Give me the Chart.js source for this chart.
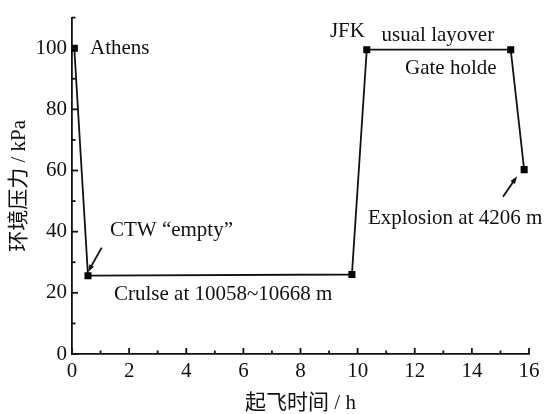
<!DOCTYPE html>
<html>
<head>
<meta charset="utf-8">
<script src="https://cdn.jsdelivr.net/npm/chart.js@4"></script>
<style>
  html, body { margin: 0; padding: 0; background: #fff; }
  #wrap { width: 548px; height: 414px; }
</style>
</head>
<body>
<div id="wrap"><canvas id="chart" width="548" height="414"></canvas></div>
<script>
// flight profile: time (h) vs ambient pressure (kPa)
const timeHours = [0.08, 0.56, 9.8, 10.32, 15.36, 15.83];
const pressureKPa = [100, 25.6, 26, 99.5, 99.5, 60.3];
const yTickValues = [0, 20, 40, 60, 80, 100];
const xTickValues = [0, 2, 4, 6, 8, 10, 12, 14, 16];

// text notes, placed in data units (x = left edge, y = middle)
const noteTexts = ['Athens', 'CTW \u201cempty\u201d', 'Crulse at 10058~10668 m', 'JFK', 'usual layover', 'Gate holde', 'Explosion at 4206 m'];
const noteX = [0.63, 1.33, 1.47, 9.03, 10.84, 11.66, 10.36];
const noteY = [100, 40.3, 19.5, 105.4, 104.2, 93.3, 44.4];

// arrows: from (x0,y0) to (x1,y1), data units
const arrowFromX = [1.04, 15.09];
const arrowFromY = [34.8, 51.4];
const arrowToX = [0.56, 15.58];
const arrowToY = [26.8, 58.1];

const ink = '#111';
const serif = "'Liberation Serif', 'Times New Roman', 'Noto Sans CJK SC', serif";

const points = timeHours.map((t, i) => ({ x: t, y: pressureKPa[i] }));

const decorations = {
    id: 'decorations',
    afterDraw(chart) {
        const ctx = chart.ctx;
        const xs = chart.scales.x, ys = chart.scales.y;
        const area = chart.chartArea;
        ctx.save();
        ctx.strokeStyle = ink;
        ctx.lineWidth = 1.8;

        // inward ticks, major and minor
        for (let v = 0; v <= 16; v++) {
            const px = xs.getPixelForValue(v);
            const len = v % 2 === 0 ? 6 : 3.5;
            ctx.beginPath();
            ctx.moveTo(px, area.bottom);
            ctx.lineTo(px, area.bottom - len);
            ctx.stroke();
        }
        for (let v = 0; v <= 110; v += 10) {
            const py = ys.getPixelForValue(v);
            const len = v % 20 === 0 ? 6 : 3.5;
            ctx.beginPath();
            ctx.moveTo(area.left, py);
            ctx.lineTo(area.left + len, py);
            ctx.stroke();
        }

        // notes
        ctx.fillStyle = ink;
        ctx.font = '21px ' + serif;
        ctx.textBaseline = 'middle';
        ctx.textAlign = 'left';
        noteTexts.forEach((t, i) => {
            ctx.fillText(t, xs.getPixelForValue(noteX[i]), ys.getPixelForValue(noteY[i]));
        });

        // arrows
        ctx.lineWidth = 1.8;
        arrowFromX.forEach((x0, i) => {
            const ax = xs.getPixelForValue(x0), ay = ys.getPixelForValue(arrowFromY[i]);
            const bx = xs.getPixelForValue(arrowToX[i]), by = ys.getPixelForValue(arrowToY[i]);
            const ang = Math.atan2(by - ay, bx - ax);
            const head = 8;
            ctx.beginPath();
            ctx.moveTo(ax, ay);
            ctx.lineTo(bx - Math.cos(ang) * 4, by - Math.sin(ang) * 4);
            ctx.stroke();
            ctx.beginPath();
            ctx.moveTo(bx, by);
            ctx.lineTo(bx - head * Math.cos(ang - 0.35), by - head * Math.sin(ang - 0.35));
            ctx.lineTo(bx - head * Math.cos(ang + 0.35), by - head * Math.sin(ang + 0.35));
            ctx.closePath();
            ctx.fill();
        });
        ctx.restore();
    }
};

new Chart(document.getElementById('chart'), {
    type: 'scatter',
    data: {
        datasets: [{
            data: points,
            showLine: true,
            borderColor: ink,
            borderWidth: 1.8,
            backgroundColor: '#000',
            pointStyle: 'rect',
            pointRadius: 5,
            pointBorderWidth: 0,
            tension: 0
        }]
    },
    options: {
        responsive: false,
        animation: false,
        events: [],
        layout: { padding: { top: 10, right: 19, left: 0, bottom: 0 } },
        plugins: { legend: { display: false }, tooltip: { enabled: false } },
        scales: {
            x: {
                type: 'linear',
                min: 0,
                max: 16,
                afterFit(scale) { scale.height = 60; },
                afterBuildTicks(scale) { scale.ticks = xTickValues.map(v => ({ value: v })); },
                grid: { display: false, drawTicks: false },
                border: { display: true, color: ink, width: 1.8 },
                ticks: {
                    color: ink,
                    font: { family: serif, size: 21 },
                    padding: 5,
                    maxRotation: 0
                },
                title: {
                    display: true,
                    text: '起飞时间 / h',
                    color: ink,
                    font: { family: serif, size: 21 },
                    padding: { top: 0, bottom: -2 }
                }
            },
            y: {
                type: 'linear',
                min: 0,
                max: 110,
                afterFit(scale) { scale.width = 72; },
                afterBuildTicks(scale) { scale.ticks = yTickValues.map(v => ({ value: v })); },
                grid: { display: false, drawTicks: false },
                border: { display: true, color: ink, width: 1.8 },
                ticks: {
                    color: ink,
                    font: { family: serif, size: 21 },
                    padding: 5
                },
                title: {
                    display: true,
                    text: '环境压力 / kPa',
                    color: ink,
                    font: { family: serif, size: 21 },
                    padding: { top: 7, bottom: 0 }
                }
            }
        }
    },
    plugins: [decorations]
});
</script>
</body>
</html>
